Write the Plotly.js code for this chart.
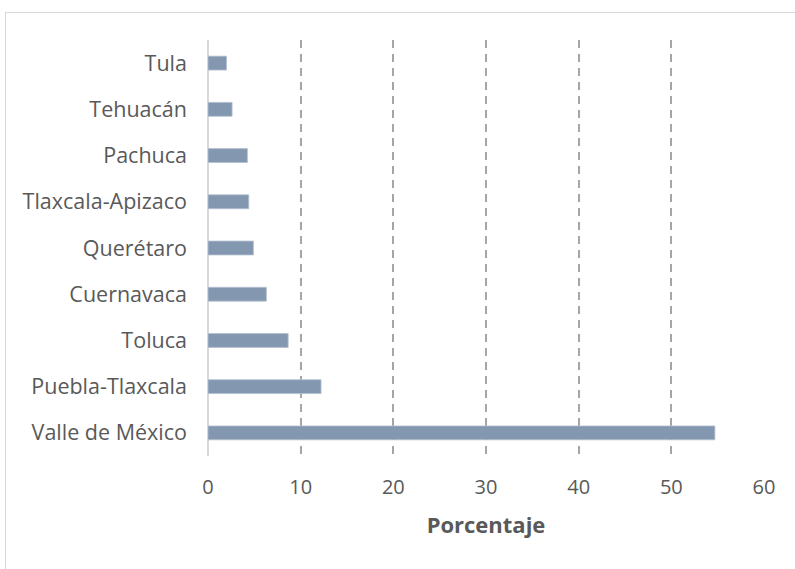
<!DOCTYPE html>
<html>
<head>
<meta charset="utf-8">
<script src="https://cdn.plot.ly/plotly-3.0.1.min.js"></script>
<style>
html,body{margin:0;padding:0;background:#fff;overflow:hidden;}
#frame{position:absolute;left:5px;top:12px;width:900px;height:700px;border-left:1.5px solid #d9d9d9;border-top:1.5px solid #d9d9d9;box-sizing:border-box;}
#chart{position:absolute;left:0;top:0;width:795px;height:569px;}
</style>
</head>
<body>
<div id="frame"></div>
<div id="chart"></div>
<script>
const categories = ["Valle de México","Puebla-Tlaxcala","Toluca","Cuernavaca","Querétaro","Tlaxcala-Apizaco","Pachuca","Tehuacán","Tula"];
const values = [54.7, 12.2, 8.65, 6.3, 4.9, 4.4, 4.25, 2.6, 2.0];
const xTicks = [0,10,20,30,40,50,60];

const trace = {
  type: 'bar',
  orientation: 'h',
  x: values,
  y: categories,
  width: 0.3,
  marker: {color: '#8497b0', line: {color: '#b4c0d0', width: 0.8}},
  hoverinfo: 'x+y'
};

const layout = {
  width: 795, height: 569,
  paper_bgcolor: 'rgba(0,0,0,0)',
  plot_bgcolor: 'rgba(0,0,0,0)',
  margin: {l: 208, r: 31, t: 40, b: 113},
  showlegend: false,
  font: {family: '"Open Sans", sans-serif', color: '#595959', size: 21},
  xaxis: {
    range: [0, 60],
    tickvals: xTicks,
    ticktext: xTicks.map(String),
    showgrid: true,
    gridcolor: '#a6a6a6',
    gridwidth: 1.8,
    griddash: '8px,6px',
    zeroline: true,
    zerolinecolor: '#d9d9d9',
    zerolinewidth: 2,
    showline: false,
    ticks: '',
    ticklabelstandoff: 17,
    tickfont: {size: 20, color: '#595959'},
    title: {text: '<b>Porcentaje</b>', font: {size: 22, color: '#595959'}, standoff: 18}
  },
  yaxis: {
    type: 'category',
    categoryorder: 'array',
    categoryarray: categories,
    showgrid: false,
    zeroline: false,
    showline: false,
    ticks: '',
    ticklabelstandoff: 20,
    tickfont: {size: 21.5, color: '#595959'}
  }
};

Plotly.newPlot('chart', [trace], layout, {displayModeBar: false, staticPlot: true});
</script>
</body>
</html>
